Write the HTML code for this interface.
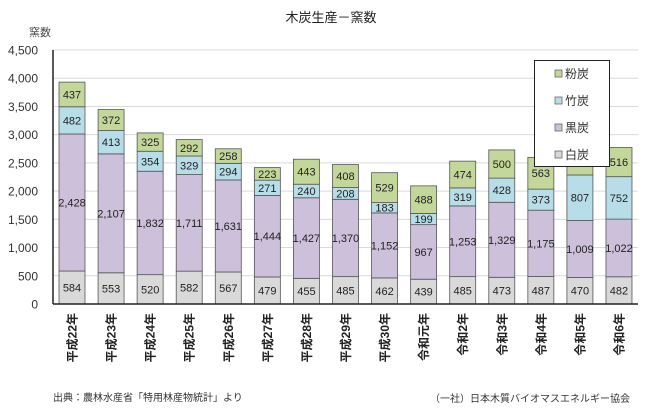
<!DOCTYPE html>
<html><head><meta charset="utf-8"><style>
html,body{margin:0;padding:0;background:#fff;}
svg{display:block;font-family:"Liberation Sans","Noto Sans CJK JP",sans-serif;}
</style></head><body>
<svg width="662" height="414" viewBox="0 0 662 414" xmlns="http://www.w3.org/2000/svg">
<rect width="662" height="414" fill="#fff"/>
<text x="331" y="22" font-size="13" text-anchor="middle" fill="#222">木炭生産－窯数</text>
<text x="40" y="36" font-size="11" text-anchor="middle" fill="#444">窯数</text>
<g id="grid"></g>
<g id="bars"></g>
<line x1="53" y1="50" x2="53" y2="304" stroke="#222" stroke-width="1.5"/>
<line x1="53" y1="304" x2="638" y2="304" stroke="#222" stroke-width="1.5"/>
<g id="xl"></g>
<rect x="534.5" y="60.5" width="75" height="106" fill="#fff" stroke="#222" stroke-width="1"/>
<g font-size="12" fill="#333">
<rect x="555" y="70" width="7" height="7" fill="#c4d79b" stroke="#666" stroke-width="0.8"/><text x="565" y="78">粉炭</text>
<rect x="555" y="97" width="7" height="7" fill="#b7dee8" stroke="#666" stroke-width="0.8"/><text x="565" y="105">竹炭</text>
<rect x="555" y="124" width="7" height="7" fill="#ccc0da" stroke="#666" stroke-width="0.8"/><text x="565" y="132">黒炭</text>
<rect x="555" y="151" width="7" height="7" fill="#d9d9d9" stroke="#666" stroke-width="0.8"/><text x="565" y="159">白炭</text>
</g>
<text x="53" y="401" font-size="10" fill="#333">出典：農林水産省「特用林産物統計」より</text>
<text x="630" y="402" font-size="10" fill="#333" text-anchor="end">（一社）日本木質バイオマスエネルギー協会</text>
</svg>
<script>
const ns="http://www.w3.org/2000/svg";
function el(t,a,txt){const e=document.createElementNS(ns,t);for(const k in a)e.setAttribute(k,a[k]);if(txt!==undefined)e.textContent=txt;return e;}
const k=254/4500, y0=304;
const g=document.getElementById('grid');
for(let v=0;v<=4500;v+=500){const y=y0-v*k;
 if(v>0)g.appendChild(el('line',{x1:53,y1:y,x2:638,y2:y,stroke:'#d9d9d9','stroke-width':1}));
 g.appendChild(el('text',{x:38,y:y+4.5,'font-size':12,'text-anchor':'end',fill:'#333'},v.toLocaleString('en-US')));}
const W=[584,553,520,582,567,479,455,485,462,439,485,473,487,470,482];
const B=[2428,2107,1832,1711,1631,1444,1427,1370,1152,967,1253,1329,1175,1009,1022];
const T=[482,413,354,329,294,271,240,208,183,199,319,428,373,807,752];
const P=[437,372,325,292,258,223,443,408,529,488,474,500,563,330,516];
const L=['平成22年','平成23年','平成24年','平成25年','平成26年','平成27年','平成28年','平成29年','平成30年','令和元年','令和2年','令和3年','令和4年','令和5年','令和6年'];
const cols=['#d9d9d9','#ccc0da','#b7dee8','#c4d79b'];
const bars=document.getElementById('bars'),xl=document.getElementById('xl');
for(let i=0;i<15;i++){const cx=72+i*39.07;let base=0;
 [W[i],B[i],T[i],P[i]].forEach((v,j)=>{const yb=y0-base*k,yt=y0-(base+v)*k;
  bars.appendChild(el('rect',{x:cx-13,y:yt,width:26,height:yb-yt,fill:cols[j],stroke:'#555','stroke-width':0.8}));
  if(!(i==13&&j==3))bars.appendChild(el('text',{x:cx,y:(yb+yt)/2+4,'font-size':11,'text-anchor':'middle',fill:'#222'},v.toLocaleString('en-US')));
  base+=v;});
 xl.appendChild(el('text',{x:0,y:0,transform:`translate(${cx+4.5},313) rotate(-90)`,'font-size':12,'font-weight':'bold','text-anchor':'end',fill:'#222'},L[i]));}
</script>
</body></html>
